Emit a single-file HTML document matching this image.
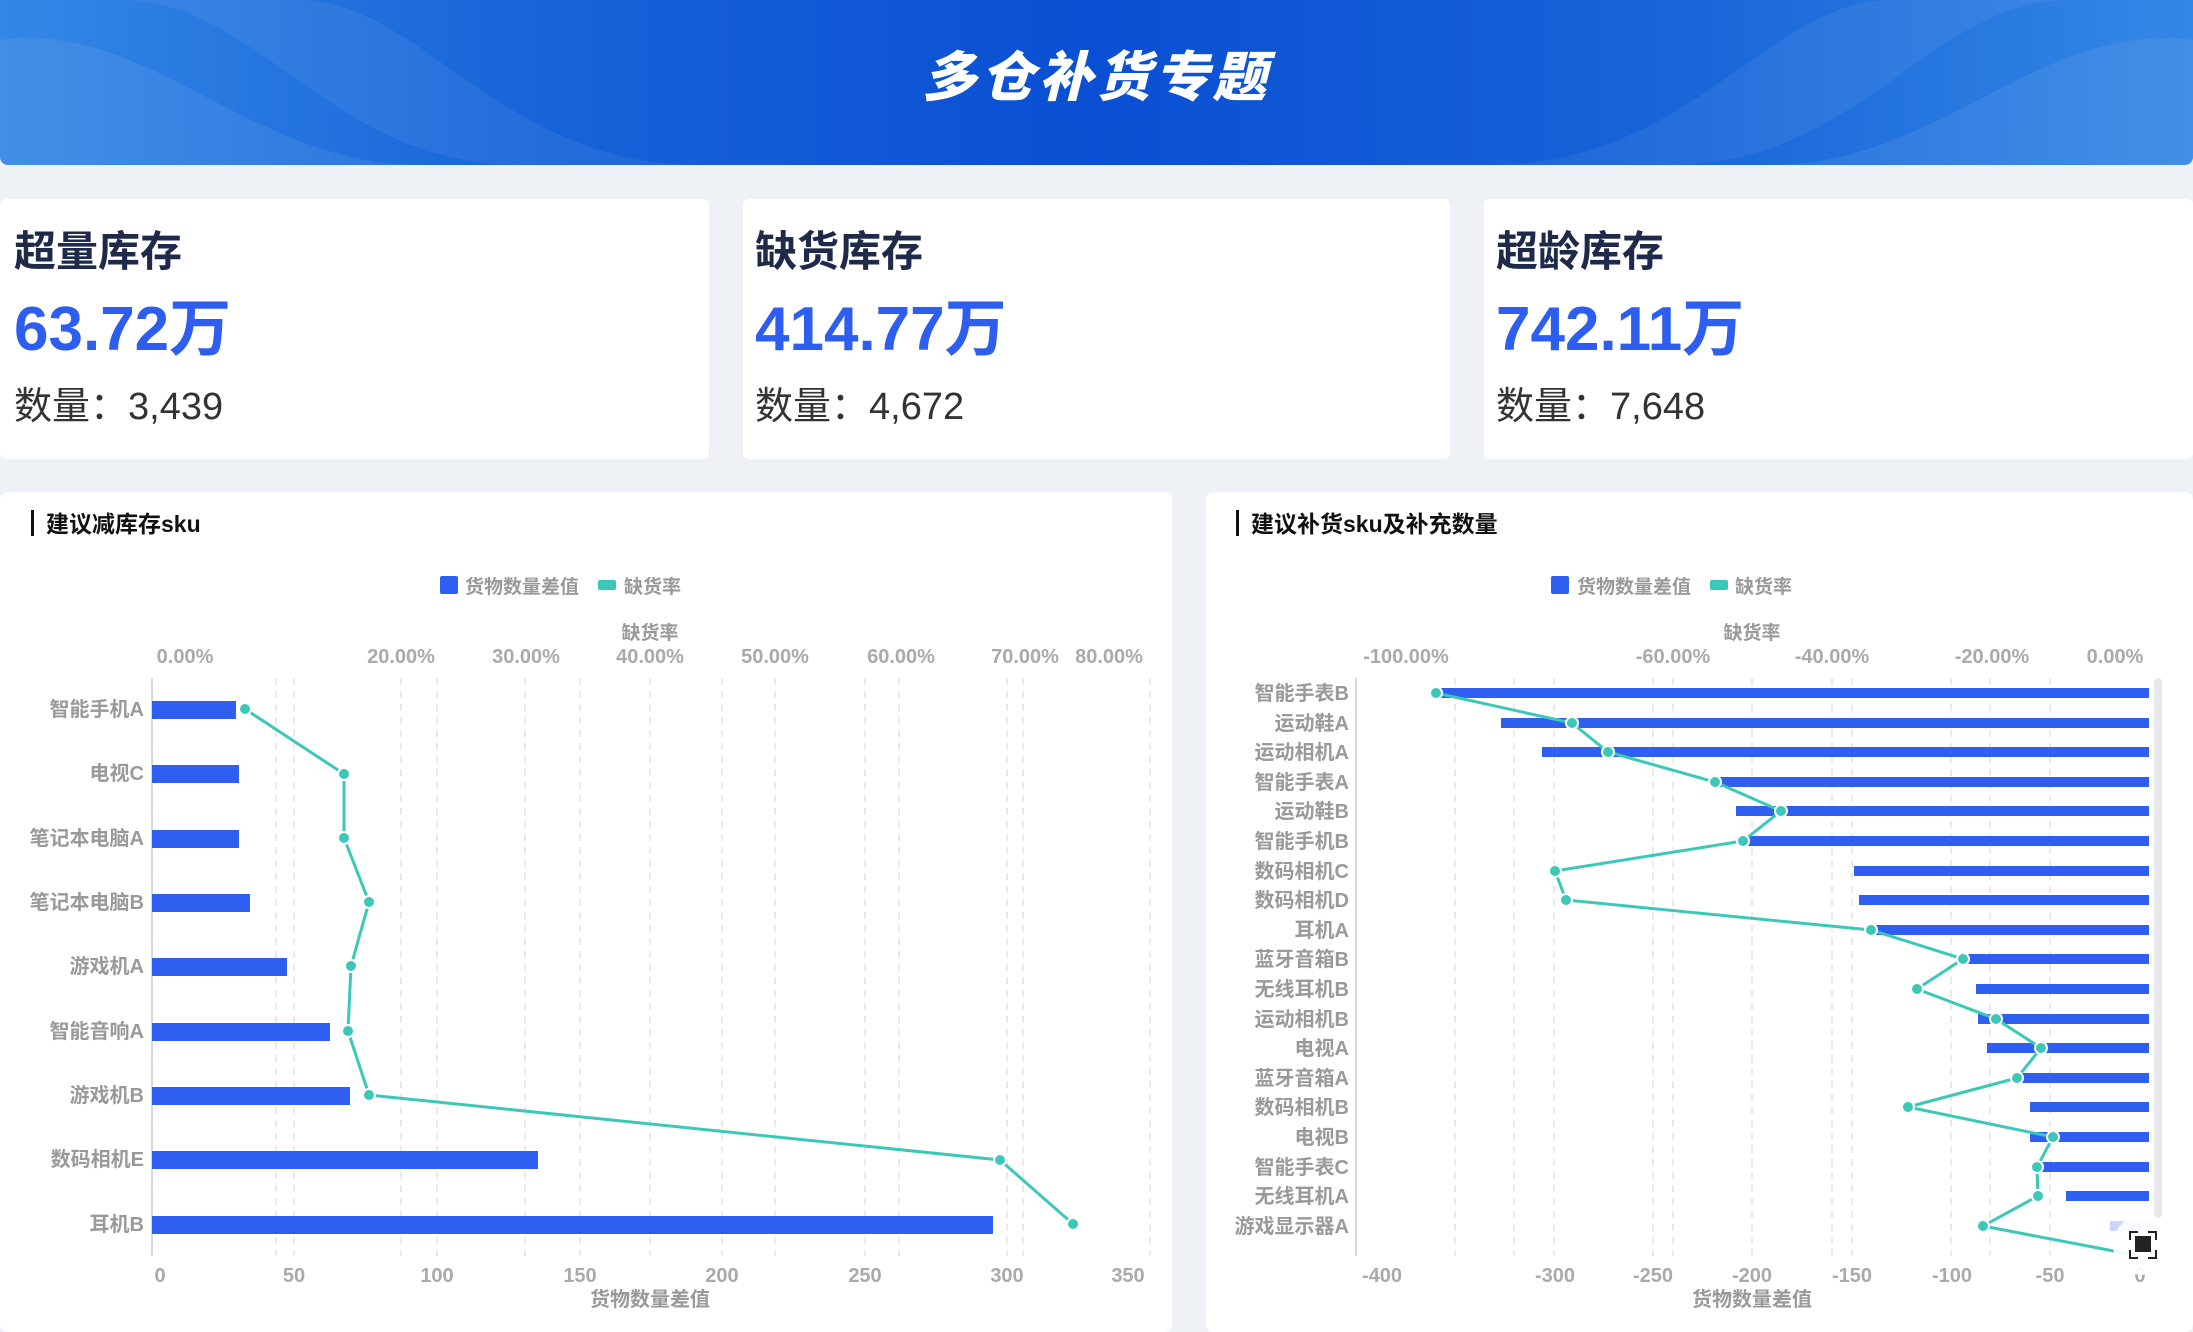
<!DOCTYPE html>
<html><head><meta charset="utf-8"><style>
*{margin:0;padding:0;box-sizing:border-box}
body{width:2193px;height:1317px;background:#eef1f6;position:relative;overflow:hidden;font-family:"Liberation Sans","Noto Sans CJK SC",sans-serif}
.hdr{position:absolute;left:0;top:0;width:2193px;height:165px;border-radius:0 0 8px 8px;overflow:hidden;background:linear-gradient(90deg,#3487e6 0%,#1763d8 25%,#0a4fd3 50%,#1763d8 75%,#3487e6 100%)}
.hdr h1{position:absolute;left:0;right:0;top:33px;text-align:center;color:#fff;font-size:54px;font-style:italic;font-weight:900;letter-spacing:4px}
.card{position:absolute;top:199px;height:260px;background:#fff;border-radius:6px}
.ct{position:absolute;font-size:42px;font-weight:bold;color:#1f2a4a}
.cv{position:absolute;font-size:62px;font-weight:bold;color:#2d5ef0}
.cn{position:absolute;font-size:38px;color:#333}
.panel{position:absolute;top:492px;height:840px;background:#fff;border-radius:8px}
svg{position:absolute;left:0;top:0}
</style></head><body>
<div class="hdr">
<svg width="2193" height="165"><path d="M0 40 C150 20 250 165 420 165 L0 165Z" fill="#ffffff" opacity="0.07"/><path d="M120 0 C260 0 330 165 520 165 L700 165 C500 165 420 0 300 0Z" fill="#ffffff" opacity="0.06"/><path d="M2193 40 C2040 20 1940 165 1770 165 L2193 165Z" fill="#ffffff" opacity="0.07"/><path d="M2070 0 C1930 0 1860 165 1670 165 L1490 165 C1690 165 1770 0 1890 0Z" fill="#ffffff" opacity="0.06"/></svg>
<h1>多仓补货专题</h1></div>
<div class="card" style="left:0;width:709px"></div>
<div class="card" style="left:743px;width:707px"></div>
<div class="card" style="left:1484px;width:709px"></div>
<div class="ct" style="left:14px;top:218px">超量库存</div><div class="cv" style="left:14px;top:278px">63.72万</div><div class="cn" style="left:14px;top:375px">数量：3,439</div>
<div class="ct" style="left:755px;top:218px">缺货库存</div><div class="cv" style="left:755px;top:278px">414.77万</div><div class="cn" style="left:755px;top:375px">数量：4,672</div>
<div class="ct" style="left:1496px;top:218px">超龄库存</div><div class="cv" style="left:1496px;top:278px">742.11万</div><div class="cn" style="left:1496px;top:375px">数量：7,648</div>
<div class="panel" style="left:0;width:1172px"></div>
<div class="panel" style="left:1206px;width:987px"></div>
<svg width="2193" height="1317" font-family="Liberation Sans, Noto Sans CJK SC, sans-serif">
<rect x="31" y="510" width="3" height="26" fill="#111"/>
<text x="46" y="532" font-size="23" font-weight="bold" fill="#111">建议减库存sku</text>
<rect x="440" y="576" width="18" height="18" rx="2" fill="#2e5ff0"/><text x="465" y="593" font-size="19" font-weight="bold" fill="#999">货物数量差值</text>
<rect x="598" y="580" width="18" height="10" rx="2" fill="#3cc8b8"/><text x="624" y="593" font-size="19" font-weight="bold" fill="#999">缺货率</text>
<text x="650" y="639" font-size="19" font-weight="bold" fill="#999" text-anchor="middle">缺货率</text>
<g font-size="20" font-weight="bold" fill="#aaa" text-anchor="middle">
<text x="185" y="663">0.00%</text><text x="401" y="663">20.00%</text><text x="526" y="663">30.00%</text><text x="650" y="663">40.00%</text><text x="775" y="663">50.00%</text><text x="901" y="663">60.00%</text><text x="1025" y="663">70.00%</text><text x="1109" y="663">80.00%</text>
<text x="160" y="1282">0</text><text x="294" y="1282">50</text><text x="437" y="1282">100</text><text x="580" y="1282">150</text><text x="722" y="1282">200</text><text x="865" y="1282">250</text><text x="1007" y="1282">300</text><text x="1128" y="1282">350</text>
<text x="650" y="1306" fill="#999">货物数量差值</text></g>
<g stroke="#e3e3e3" stroke-width="1.5" stroke-dasharray="7,6">
<line x1="276" y1="678" x2="276" y2="1256"/><line x1="294" y1="678" x2="294" y2="1256"/><line x1="401" y1="678" x2="401" y2="1256"/><line x1="437" y1="678" x2="437" y2="1256"/><line x1="525" y1="678" x2="525" y2="1256"/><line x1="580" y1="678" x2="580" y2="1256"/><line x1="650" y1="678" x2="650" y2="1256"/><line x1="722" y1="678" x2="722" y2="1256"/><line x1="775" y1="678" x2="775" y2="1256"/><line x1="865" y1="678" x2="865" y2="1256"/><line x1="899" y1="678" x2="899" y2="1256"/><line x1="1007" y1="678" x2="1007" y2="1256"/><line x1="1023" y1="678" x2="1023" y2="1256"/><line x1="1150" y1="678" x2="1150" y2="1256"/></g>
<line x1="152" y1="678" x2="152" y2="1256" stroke="#ccc" stroke-width="1.5"/>
<g font-size="20" font-weight="bold" fill="#999" text-anchor="end">
<text x="144" y="716">智能手机A</text><text x="144" y="780">电视C</text><text x="144" y="845">笔记本电脑A</text><text x="144" y="909">笔记本电脑B</text><text x="144" y="973">游戏机A</text><text x="144" y="1038">智能音响A</text><text x="144" y="1102">游戏机B</text><text x="144" y="1166">数码相机E</text><text x="144" y="1231">耳机B</text></g>
<g fill="#2e5ff0">
<rect x="152" y="701" width="84" height="18"/><rect x="152" y="765" width="87" height="18"/><rect x="152" y="830" width="87" height="18"/><rect x="152" y="894" width="98" height="18"/><rect x="152" y="958" width="135" height="18"/><rect x="152" y="1023" width="178" height="18"/><rect x="152" y="1087" width="198" height="18"/><rect x="152" y="1151" width="386" height="18"/><rect x="152" y="1216" width="841" height="18"/></g>
<polyline points="245,709 344,774 344,838 369,902 351,966 348,1031 369,1095 1000,1160 1073,1224" fill="none" stroke="#3cc8b8" stroke-width="3"/>
<g fill="#3cc8b8" stroke="#fff" stroke-width="2"><circle cx="245" cy="709" r="6"/><circle cx="344" cy="774" r="6"/><circle cx="344" cy="838" r="6"/><circle cx="369" cy="902" r="6"/><circle cx="351" cy="966" r="6"/><circle cx="348" cy="1031" r="6"/><circle cx="369" cy="1095" r="6"/><circle cx="1000" cy="1160" r="6"/><circle cx="1073" cy="1224" r="6"/></g>
<rect x="1236" y="510" width="3" height="26" fill="#111"/>
<text x="1251" y="532" font-size="23" font-weight="bold" fill="#111">建议补货sku及补充数量</text>
<rect x="1551" y="576" width="18" height="18" rx="2" fill="#2e5ff0"/><text x="1577" y="593" font-size="19" font-weight="bold" fill="#999">货物数量差值</text>
<rect x="1710" y="580" width="18" height="10" rx="2" fill="#3cc8b8"/><text x="1735" y="593" font-size="19" font-weight="bold" fill="#999">缺货率</text>
<text x="1752" y="639" font-size="19" font-weight="bold" fill="#999" text-anchor="middle">缺货率</text>
<g font-size="20" font-weight="bold" fill="#aaa" text-anchor="middle">
<text x="1406" y="663">-100.00%</text><text x="1673" y="663">-60.00%</text><text x="1832" y="663">-40.00%</text><text x="1992" y="663">-20.00%</text><text x="2115" y="663">0.00%</text>
<text x="1382" y="1282">-400</text><text x="1555" y="1282">-300</text><text x="1653" y="1282">-250</text><text x="1752" y="1282">-200</text><text x="1852" y="1282">-150</text><text x="1952" y="1282">-100</text><text x="2050" y="1282">-50</text><text x="2140" y="1282">0</text>
<text x="1752" y="1306" fill="#999">货物数量差值</text></g>
<g stroke="#e3e3e3" stroke-width="1.5" stroke-dasharray="7,6">
<line x1="1455" y1="678" x2="1455" y2="1256"/><line x1="1514" y1="678" x2="1514" y2="1256"/><line x1="1554" y1="678" x2="1554" y2="1256"/><line x1="1653" y1="678" x2="1653" y2="1256"/><line x1="1673" y1="678" x2="1673" y2="1256"/><line x1="1752" y1="678" x2="1752" y2="1256"/><line x1="1832" y1="678" x2="1832" y2="1256"/><line x1="1852" y1="678" x2="1852" y2="1256"/><line x1="1951" y1="678" x2="1951" y2="1256"/><line x1="1990" y1="678" x2="1990" y2="1256"/><line x1="2050" y1="678" x2="2050" y2="1256"/></g>
<line x1="1356" y1="678" x2="1356" y2="1256" stroke="#ccc" stroke-width="1.5"/>
<rect x="2154" y="678" width="8" height="540" rx="4" fill="#e6e8ec"/>
<g font-size="20" font-weight="bold" fill="#999" text-anchor="end">
<text x="1349" y="700">智能手表B</text><text x="1349" y="730">运动鞋A</text><text x="1349" y="759">运动相机A</text><text x="1349" y="789">智能手表A</text><text x="1349" y="818">运动鞋B</text><text x="1349" y="848">智能手机B</text><text x="1349" y="878">数码相机C</text><text x="1349" y="907">数码相机D</text><text x="1349" y="937">耳机A</text><text x="1349" y="966">蓝牙音箱B</text><text x="1349" y="996">无线耳机B</text><text x="1349" y="1026">运动相机B</text><text x="1349" y="1055">电视A</text><text x="1349" y="1085">蓝牙音箱A</text><text x="1349" y="1114">数码相机B</text><text x="1349" y="1144">电视B</text><text x="1349" y="1174">智能手表C</text><text x="1349" y="1203">无线耳机A</text><text x="1349" y="1233">游戏显示器A</text></g>
<g fill="#2e5ff0">
<rect x="1437" y="688" width="712" height="10"/><rect x="1501" y="718" width="648" height="10"/><rect x="1542" y="747" width="607" height="10"/><rect x="1716" y="777" width="433" height="10"/><rect x="1736" y="806" width="413" height="10"/><rect x="1745" y="836" width="404" height="10"/><rect x="1854" y="866" width="295" height="10"/><rect x="1859" y="895" width="290" height="10"/><rect x="1873" y="925" width="276" height="10"/><rect x="1966" y="954" width="183" height="10"/><rect x="1976" y="984" width="173" height="10"/><rect x="1978" y="1014" width="171" height="10"/><rect x="1987" y="1043" width="162" height="10"/><rect x="2021" y="1073" width="128" height="10"/><rect x="2030" y="1102" width="119" height="10"/><rect x="2030" y="1132" width="119" height="10"/><rect x="2039" y="1162" width="110" height="10"/><rect x="2066" y="1191" width="83" height="10"/><rect x="2110" y="1221" width="39" height="10" fill="#c9d5fb"/></g>
<polyline points="1436,693 1572,723 1608,752 1715,782 1781,811 1743,841 1555,871 1566,900 1871,930 1963,959 1917,989 1996,1019 2041,1048 2017,1078 1908,1107 2053,1137 2037,1167 2038,1196 1983,1226 2140,1256" fill="none" stroke="#3cc8b8" stroke-width="3"/>
<g fill="#3cc8b8" stroke="#fff" stroke-width="2"><circle cx="1436" cy="693" r="6"/><circle cx="1572" cy="723" r="6"/><circle cx="1608" cy="752" r="6"/><circle cx="1715" cy="782" r="6"/><circle cx="1781" cy="811" r="6"/><circle cx="1743" cy="841" r="6"/><circle cx="1555" cy="871" r="6"/><circle cx="1566" cy="900" r="6"/><circle cx="1871" cy="930" r="6"/><circle cx="1963" cy="959" r="6"/><circle cx="1917" cy="989" r="6"/><circle cx="1996" cy="1019" r="6"/><circle cx="2041" cy="1048" r="6"/><circle cx="2017" cy="1078" r="6"/><circle cx="1908" cy="1107" r="6"/><circle cx="2053" cy="1137" r="6"/><circle cx="2037" cy="1167" r="6"/><circle cx="2038" cy="1196" r="6"/><circle cx="1983" cy="1226" r="6"/></g>
<circle cx="2143" cy="1245" r="30" fill="#fff" opacity="0.9"/>
<rect x="2135" y="1236" width="16" height="16" fill="#222"/>
<path d="M2130 1240v-8h8M2148 1232h8v8M2156 1250v8h-8M2138 1258h-8v-8" fill="none" stroke="#222" stroke-width="2"/>
</svg>
</body></html>
